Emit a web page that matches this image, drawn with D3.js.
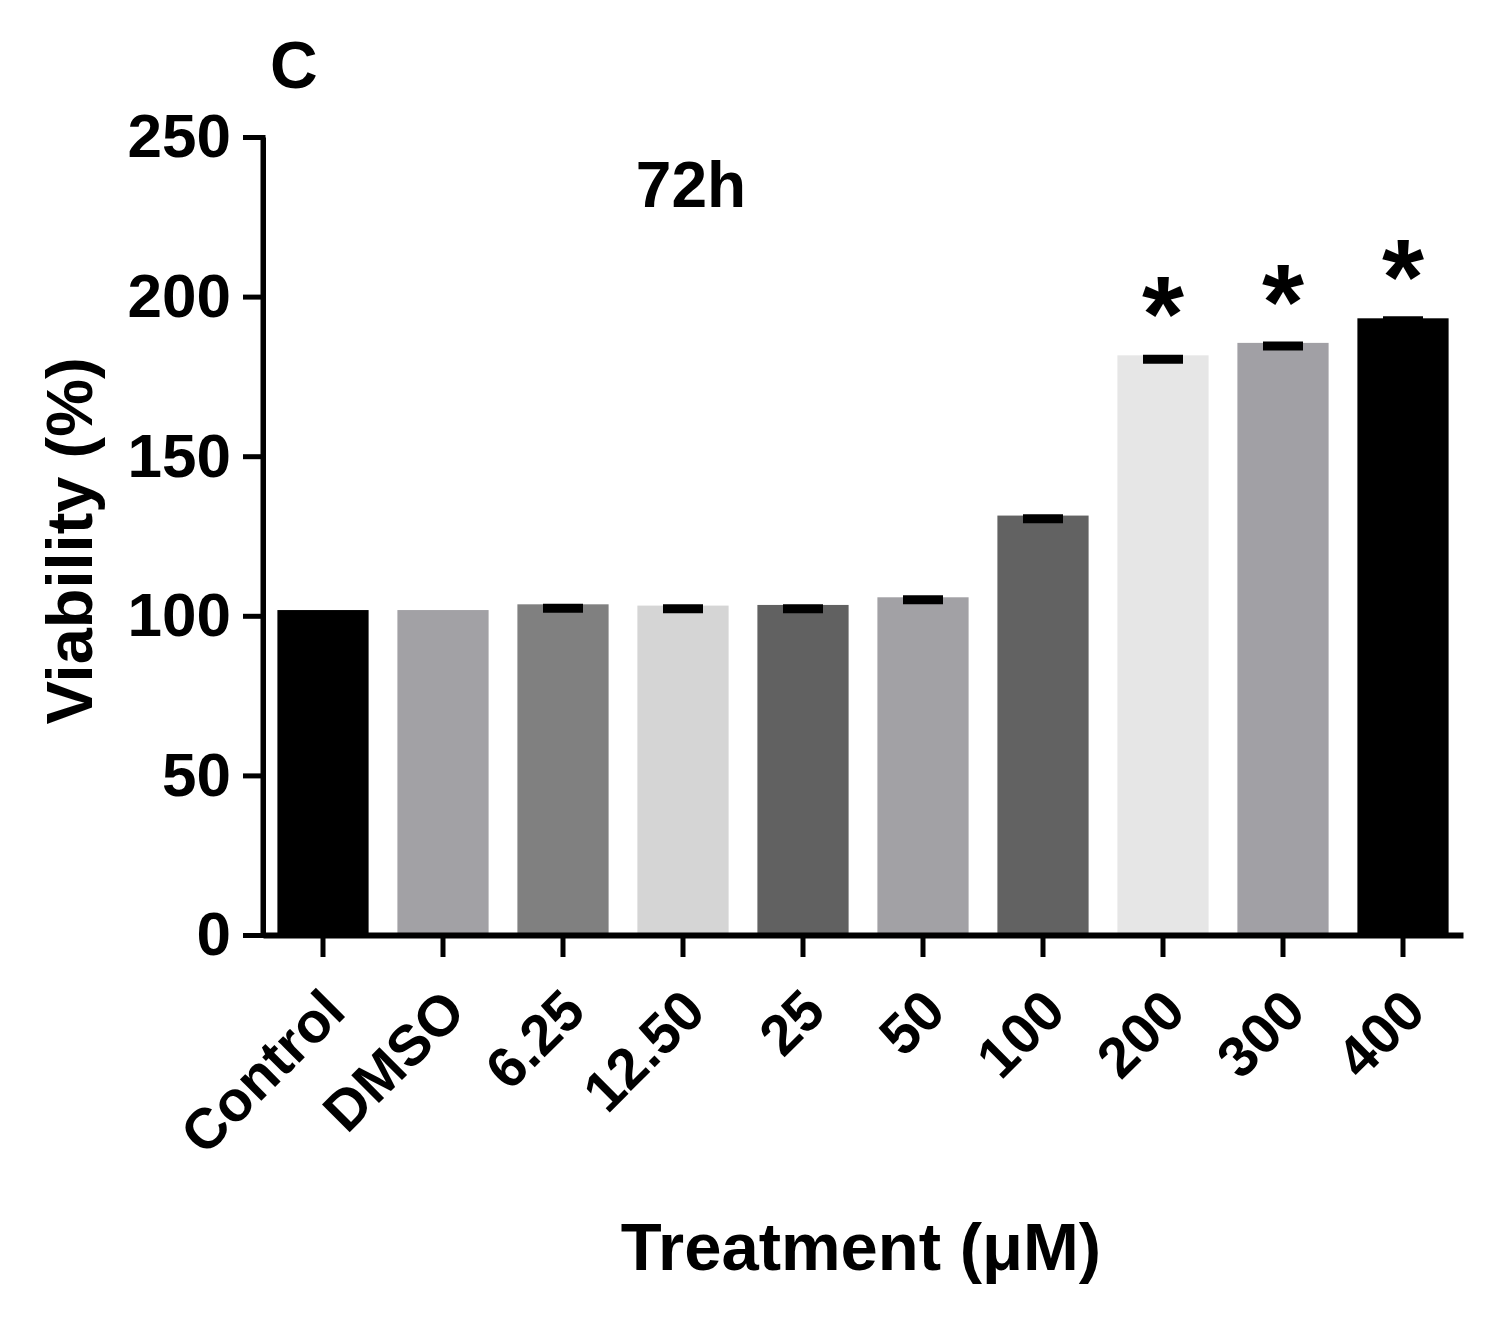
<!DOCTYPE html>
<html>
<head>
<meta charset="utf-8">
<script src="https://cdn.jsdelivr.net/npm/d3@7"></script>
<style>
  body { margin: 0; background: #fff; }
  text { font-family: "Liberation Sans", Arial, sans-serif; font-weight: bold; fill: #000; }
</style>
</head>
<body>
<div id="chart"></div>
<script>
// data
var treatments = ["Control", "DMSO", "6.25", "12.50", "25", "50", "100", "200", "300", "400"];
var viability = [101.8, 101.8, 103.6, 103.2, 103.4, 105.8, 131.4, 181.6, 185.5, 193.2];
var sem = [0, 0, 1.2, 1.0, 1.2, 0.8, 1.0, 1.2, 1.0, 0.8];
var barColors = ["#000000", "#a2a1a5", "#808080", "#d5d5d5", "#616161", "#a2a1a5", "#626262", "#e6e6e6", "#a1a0a5", "#000000"];
var significant = [false, false, false, false, false, false, false, true, true, true];
var yTicks = [0, 50, 100, 150, 200, 250];

var W = 1498, H = 1323;
// plot area (note: "top" is reserved on window, so use other names)
var plotLeft = 263, plotRight = 1463, plotTop = 137, plotBottom = 935;

var svg = d3.select("#chart").append("svg")
    .attr("width", W)
    .attr("height", H);

var x = d3.scaleBand()
    .domain(treatments)
    .range([plotLeft, plotRight])
    .paddingInner(0.24)
    .paddingOuter(0.12);

var y = d3.scaleLinear()
    .domain([0, 250])
    .range([plotBottom, plotTop]);

// bars
svg.selectAll("rect.bar")
    .data(treatments)
    .enter().append("rect")
    .attr("class", "bar")
    .attr("x", function(d) { return x(d); })
    .attr("width", x.bandwidth())
    .attr("y", function(d, i) { return y(viability[i]); })
    .attr("height", function(d, i) { return y(0) - y(viability[i]); })
    .attr("fill", function(d, i) { return barColors[i]; });

// error bars (SEM)
var err = svg.selectAll("g.err")
    .data(treatments.filter(function(d, i) { return sem[i] > 0; }))
    .enter().append("g")
    .attr("class", "err");

err.append("line")
    .attr("x1", function(d) { return x(d) + x.bandwidth() / 2 - 20; })
    .attr("x2", function(d) { return x(d) + x.bandwidth() / 2 + 20; })
    .attr("y1", function(d) { var i = treatments.indexOf(d); return y(viability[i] - sem[i]); })
    .attr("y2", function(d) { var i = treatments.indexOf(d); return y(viability[i] - sem[i]); })
    .attr("stroke", "#000")
    .attr("stroke-width", 9);

// significance stars
svg.selectAll("text.star")
    .data(treatments.filter(function(d, i) { return significant[i]; }))
    .enter().append("text")
    .attr("class", "star")
    .attr("x", function(d) { return x(d) + x.bandwidth() / 2; })
    .attr("y", function(d) { return y(viability[treatments.indexOf(d)]) - 4; })
    .attr("text-anchor", "middle")
    .style("font-size", "108px")
    .text("*");

// y axis
var yAxis = svg.append("g")
    .attr("transform", "translate(" + plotLeft + ",0)")
    .call(d3.axisLeft(y).tickValues(yTicks).tickSize(20).tickSizeOuter(0).tickPadding(12));

yAxis.select(".domain").attr("stroke", "#000").attr("stroke-width", 5);
yAxis.selectAll(".tick line").attr("stroke", "#000").attr("stroke-width", 5);
yAxis.selectAll(".tick text")
    .style("font-size", "62px")
    .style("font-family", "'Liberation Sans', Arial, sans-serif")
    .style("font-weight", "bold");

// x axis
var xAxis = svg.append("g")
    .attr("transform", "translate(0," + plotBottom + ")")
    .call(d3.axisBottom(x).tickSize(22).tickSizeOuter(0));

xAxis.select(".domain").attr("stroke", "#000").attr("stroke-width", 6);
xAxis.selectAll(".tick line").attr("stroke", "#000").attr("stroke-width", 5);
xAxis.selectAll(".tick text")
    .attr("y", 0)
    .attr("dy", "0.72em")
    .attr("text-anchor", "end")
    .attr("transform", "translate(-4,50) rotate(-45)")
    .style("font-size", "57px")
    .style("font-family", "'Liberation Sans', Arial, sans-serif")
    .style("font-weight", "bold");

// make sure the axes meet cleanly at the origin
svg.append("line")
    .attr("x1", plotLeft).attr("x2", plotLeft)
    .attr("y1", plotTop - 2).attr("y2", plotBottom + 3)
    .attr("stroke", "#000").attr("stroke-width", 5);

// titles
svg.append("text")
    .attr("x", 270)
    .attr("y", 88)
    .style("font-size", "66px")
    .text("C");

svg.append("text")
    .attr("x", 691)
    .attr("y", 207)
    .attr("text-anchor", "middle")
    .style("font-size", "64px")
    .text("72h");

svg.append("text")
    .attr("transform", "translate(92,541) rotate(-90)")
    .attr("text-anchor", "middle")
    .style("font-size", "65px")
    .text("Viability (%)");

svg.append("text")
    .attr("x", 861)
    .attr("y", 1270)
    .attr("text-anchor", "middle")
    .style("font-size", "67px")
    .text("Treatment (\u03bcM)");
</script>
</body>
</html>
